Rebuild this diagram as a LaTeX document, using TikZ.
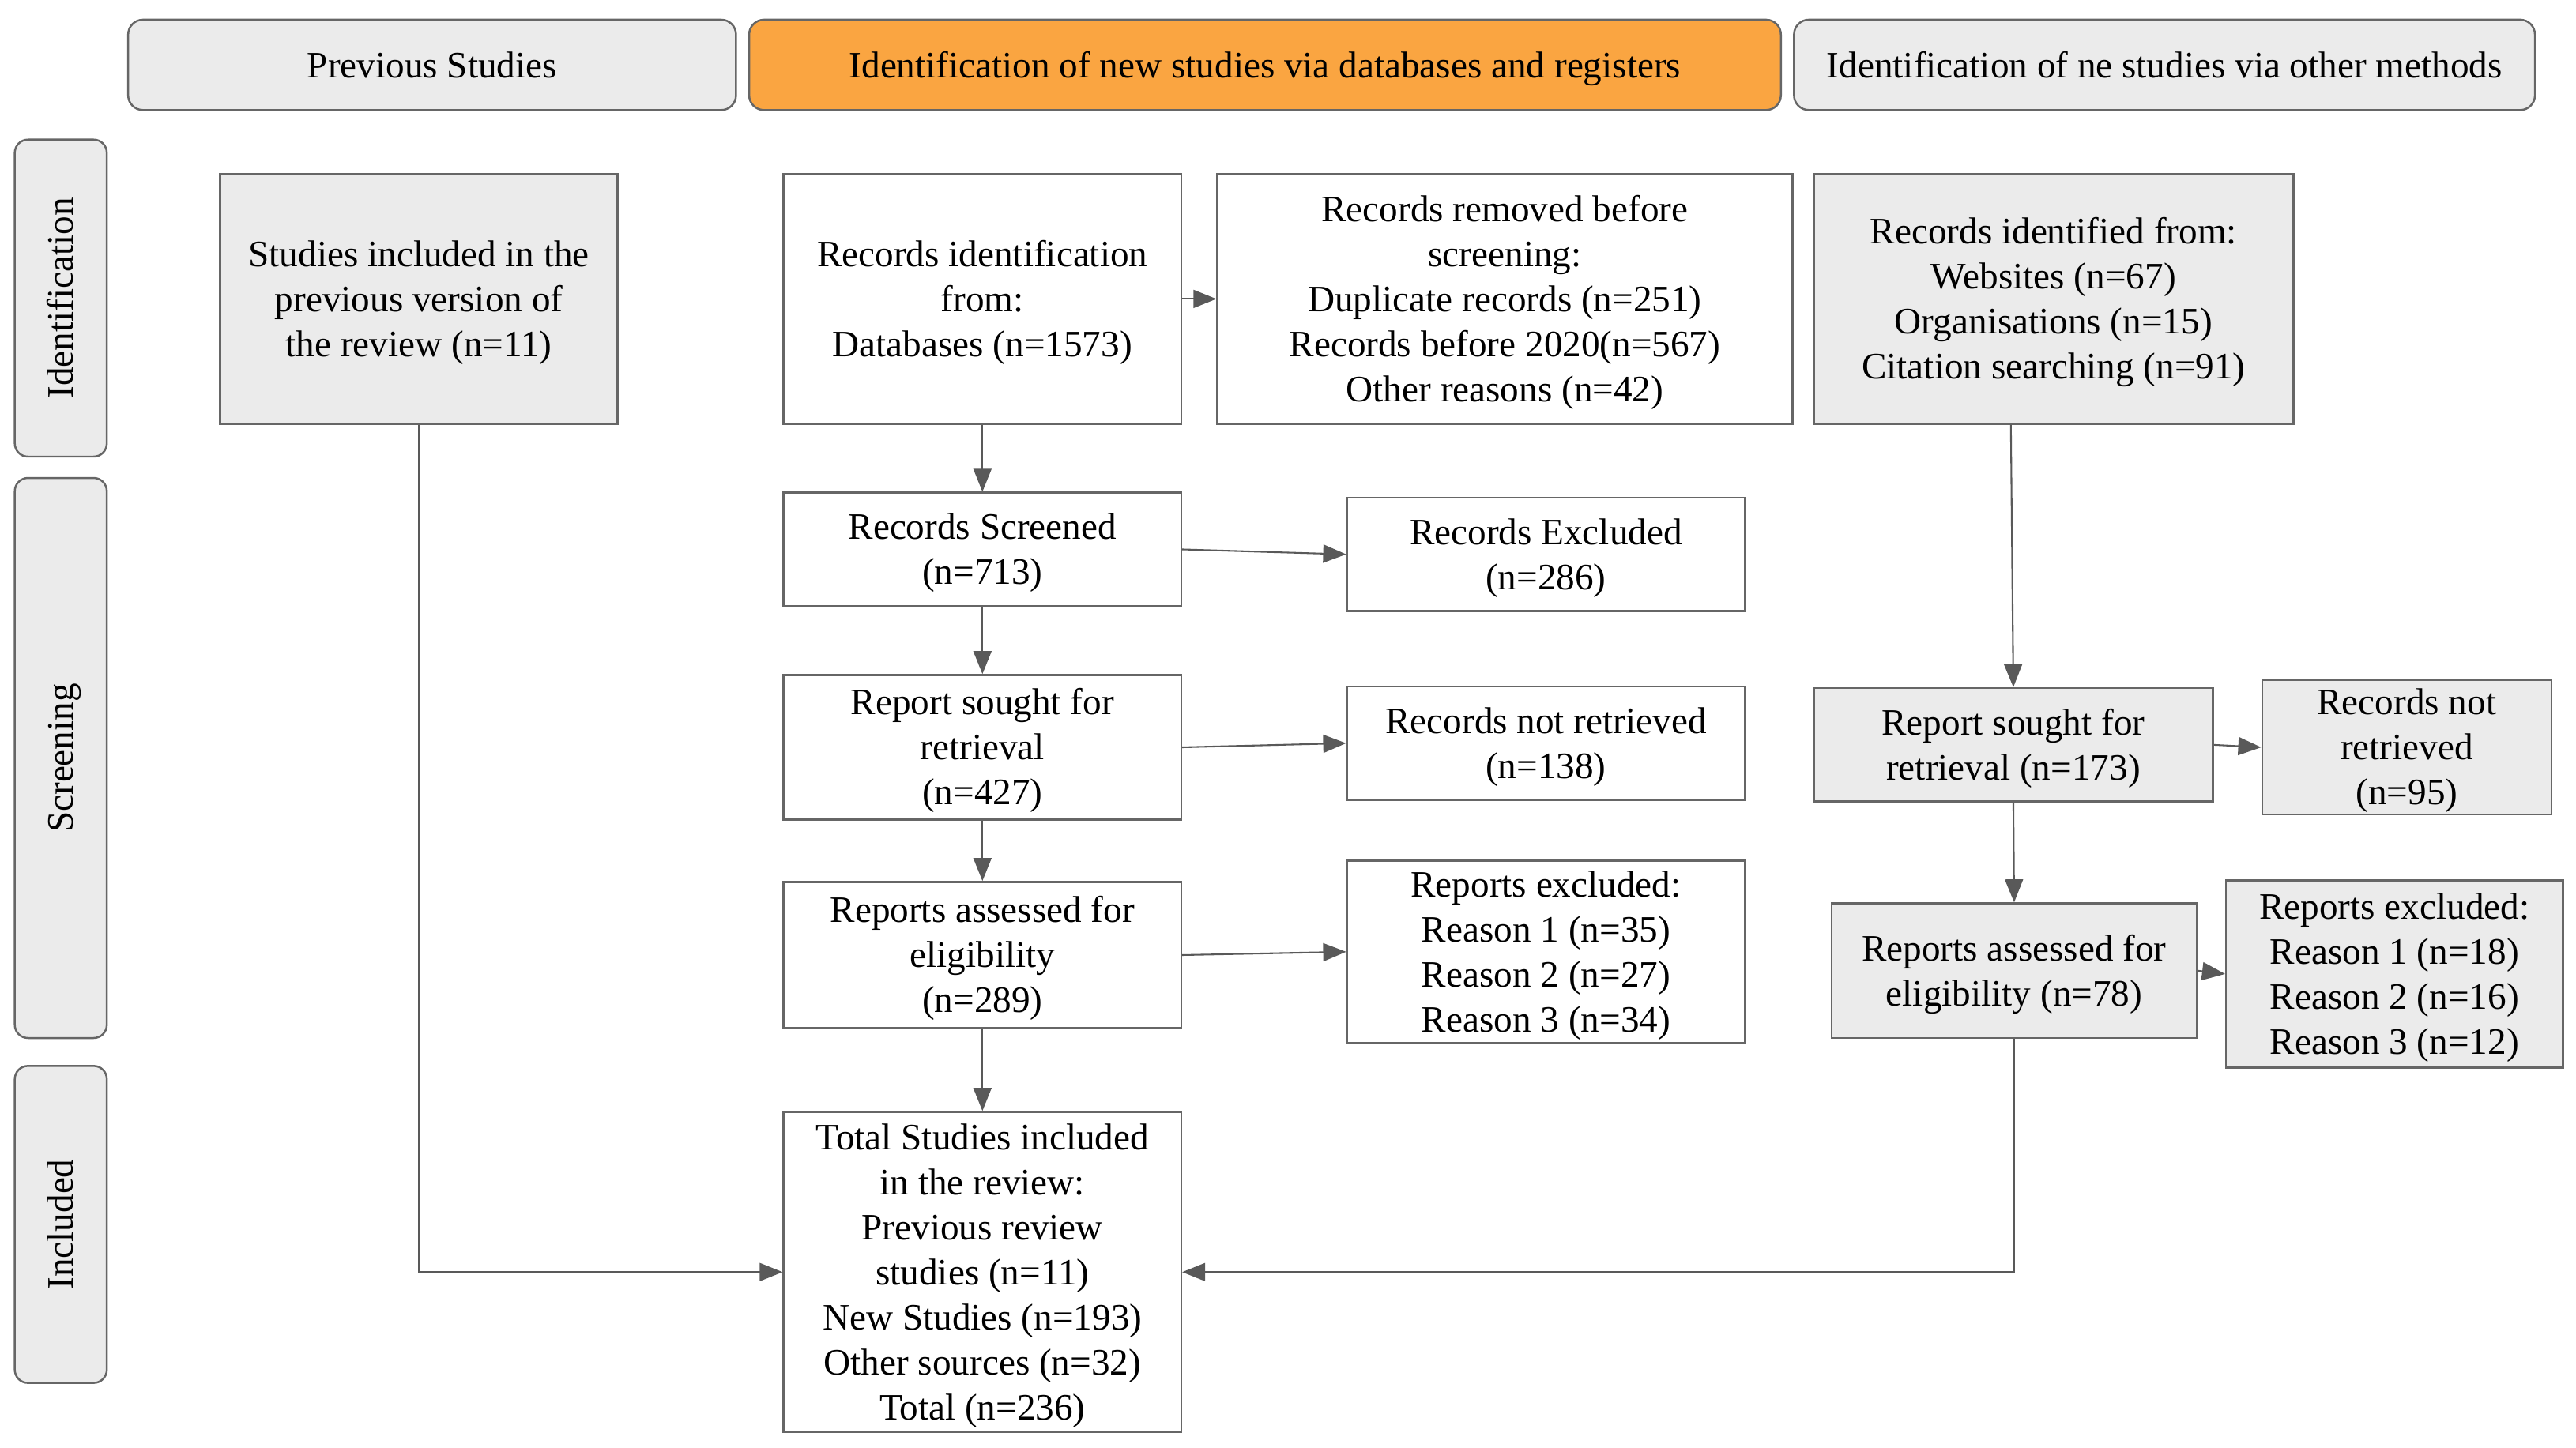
\documentclass[tikz,border=0pt]{standalone}
\usepackage{fontspec}
\setmainfont{Liberation Serif}
\usetikzlibrary{arrows.meta}
\definecolor{bordergray}{HTML}{666666}
\definecolor{linegray}{HTML}{595959}
\definecolor{fillgray}{HTML}{EBEBEB}
\definecolor{headorange}{HTML}{FAA541}
\newcommand{\fs}{\rule{0pt}{20.2pt}}
\tikzset{
  txt/.style={font=\fontsize{22.7pt}{27.4pt}\selectfont, align=center, inner sep=0pt,
    execute at begin node={\rule{0pt}{20.2pt}},
    execute at end node={\rule[-4.9pt]{0pt}{4.9pt}}},
  box/.style={txt, draw=bordergray, line width=1.2pt, rectangle, fill=white},
  graybox/.style={box, fill=fillgray},
  header/.style={txt, draw=bordergray, line width=1.2pt, rounded corners=9pt, fill=fillgray, minimum height=55pt},
  side/.style={txt, draw=bordergray, line width=1.2pt, rounded corners=8pt, fill=fillgray, rotate=90, minimum height=56pt},
  arr/.style={draw=linegray, line width=1pt, -{Triangle[length=14pt,width=11pt]}},
}
\begin{document}
\begin{tikzpicture}[x=1pt,y=-1pt]
\useasboundingbox (0,0) rectangle (1568,881.6);
% headers
\node[header, minimum width=370pt] (h1) at (263,39.5) {Previous Studies};
\node[header, minimum width=628pt, fill=headorange] (h2) at (770,39.5) {Identification of new studies via databases and registers};
\node[header, minimum width=451pt] (h3) at (1317.5,39.5) {Identification of ne studies via other methods};
% side labels
\node[side, minimum width=193pt] (s1) at (37,181.5) {Identification};
\node[side, minimum width=341pt] (s2) at (37,461.5) {Screening};
\node[side, minimum width=193pt] (s3) at (37,745.5) {Included};
% boxes
\node[graybox, minimum width=242pt, minimum height=152pt] (prev) at (255,182) {\fs Studies included in the\\previous version of\\the review (n=11)};
\node[box, minimum width=242pt, minimum height=152pt] (recid) at (598,182) {\fs Records identification\\from:\\Databases (n=1573)};
\node[box, minimum width=350pt, minimum height=152pt] (removed) at (916,182) {\fs Records removed before\\screening:\\Duplicate records (n=251)\\Records before 2020(n=567)\\Other reasons (n=42)};
\node[graybox, minimum width=292pt, minimum height=152pt] (other) at (1250,182) {\fs Records identified from:\\Websites (n=67)\\Organisations (n=15)\\Citation searching (n=91)};
\node[box, minimum width=242pt, minimum height=69pt] (screened) at (598,334.5) {\fs Records Screened\\(n=713)};
\node[box, minimum width=242pt, minimum height=69pt] (excluded) at (941,337.5) {\fs Records Excluded\\(n=286)};
\node[box, minimum width=242pt, minimum height=88pt] (sought) at (598,455) {\fs Report sought for\\retrieval\\(n=427)};
\node[box, minimum width=242pt, minimum height=69pt] (notret) at (941,452.5) {\fs Records not retrieved\\(n=138)};
\node[box, minimum width=242pt, minimum height=89pt] (assessed) at (598,581.5) {\fs Reports assessed for\\eligibility\\(n=289)};
\node[box, minimum width=242pt, minimum height=111pt] (repexcl) at (941,579.5) {\fs Reports excluded:\\Reason 1 (n=35)\\Reason 2 (n=27)\\Reason 3 (n=34)};
\node[graybox, minimum width=243pt, minimum height=69pt] (sought2) at (1225.5,453.5) {\fs Report sought for\\retrieval (n=173)};
\node[graybox, minimum width=176pt, minimum height=82pt] (notret2) at (1465,455) {\fs Records not\\retrieved\\(n=95)};
\node[graybox, minimum width=222pt, minimum height=82pt] (assessed2) at (1226,591) {\fs Reports assessed for\\eligibility (n=78)};
\node[graybox, minimum width=205pt, minimum height=114pt] (repexcl2) at (1457.5,593) {\fs Reports excluded:\\Reason 1 (n=18)\\Reason 2 (n=16)\\Reason 3 (n=12)};
\node[box, minimum width=242pt, minimum height=195pt] (total) at (598,774.5) {\fs Total Studies included\\in the review:\\Previous review\\studies (n=11)\\New Studies (n=193)\\Other sources (n=32)\\Total (n=236)};
% connectors
\draw[arr] (recid.east) -- (removed.west);
\draw[arr] (recid.south) -- (screened.north);
\draw[arr] (screened.east) -- (excluded.west);
\draw[arr] (screened.south) -- (sought.north);
\draw[arr] (sought.east) -- (notret.west);
\draw[arr] (sought.south) -- (assessed.north);
\draw[arr] (assessed.east) -- (repexcl.west);
\draw[arr] (assessed.south) -- (total.north);
\draw[arr] ([xshift=-1.5pt]sought2.north |- other.south) -- (sought2.north);
\draw[arr] (sought2.east) -- (notret2.west);
\draw[arr] (sought2.south) -- (assessed2.north);
\draw[arr] (assessed2.east) -- (repexcl2.west);
\draw[arr] (prev.south) |- (total.west);
\draw[arr] (assessed2.south) |- (total.east);
\end{tikzpicture}
\end{document}
